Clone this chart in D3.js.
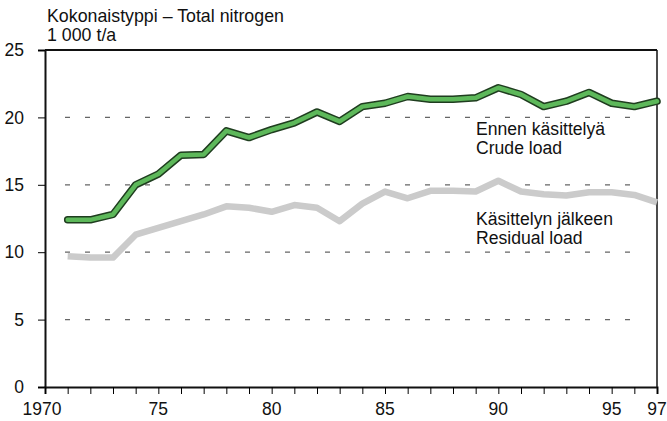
<!DOCTYPE html>
<html>
<head>
<meta charset="utf-8">
<script src="https://cdn.jsdelivr.net/npm/d3@7"></script>
<style>
  body { margin: 0; background: #fff; }
  svg { display: block; font-family: "Liberation Sans", Arial, Helvetica, sans-serif; }
</style>
</head>
<body>
<svg id="chart"></svg>
<script>
const years = d3.range(1971, 1998);
const crudeLoad = [12.4, 12.4, 12.8, 15.0, 15.8, 17.2, 17.25, 19.0, 18.5, 19.1, 19.6, 20.4, 19.7,
  20.8, 21.05, 21.55, 21.35, 21.35, 21.45, 22.2, 21.7, 20.8, 21.2, 21.85, 21.05, 20.8, 21.2];
const residualLoad = [9.7, 9.6, 9.6, 11.3, 11.8, 12.3, 12.8, 13.4, 13.3, 13.0, 13.5, 13.3, 12.3,
  13.6, 14.5, 14.0, 14.55, 14.55, 14.5, 15.3, 14.5, 14.3, 14.2, 14.45, 14.45, 14.25, 13.7];
const yTicks = [0, 5, 10, 15, 20, 25];
const gridValues = [5, 10, 15, 20];
const xLabels = [[1970, '1970'], [1975, '75'], [1980, '80'], [1985, '85'], [1990, '90'], [1995, '95'], [1997, '97']];
const titleLines = ['Kokonaistyppi – Total nitrogen', '1 000 t/a'];
const crudeLabel = ['Ennen käsittelyä', 'Crude load'];
const residualLabel = ['Käsittelyn jälkeen', 'Residual load'];

const width = 667;
const height = 421;

const svg = d3.select('#chart')
  .attr('width', width)
  .attr('height', height);

const x = d3.scaleLinear().domain([1970, 1997]).range([45, 657]);
const y = d3.scaleLinear().domain([0, 25]).range([387, 50]);

// dashed grid
svg.append('g')
  .selectAll('line')
  .data(gridValues)
  .enter().append('line')
  .attr('x1', 65)
  .attr('x2', 645)
  .attr('y1', d => y(d))
  .attr('y2', d => y(d))
  .attr('stroke', '#666')
  .attr('stroke-width', 1.2)
  .attr('stroke-dasharray', '5,15');

// frame: top and right edges
svg.append('line')
  .attr('x1', x(1970)).attr('x2', x(1997))
  .attr('y1', y(25)).attr('y2', y(25))
  .attr('stroke', '#111').attr('stroke-width', 2);
svg.append('line')
  .attr('x1', x(1997)).attr('x2', x(1997))
  .attr('y1', y(25)).attr('y2', y(0))
  .attr('stroke', '#111').attr('stroke-width', 1.5);

// y axis
const yAxis = svg.append('g')
  .attr('transform', `translate(${x(1970)},0)`)
  .call(d3.axisLeft(y).tickValues(yTicks).tickSize(7).tickPadding(14));
yAxis.select('.domain').attr('stroke', '#111').attr('stroke-width', 2);
yAxis.selectAll('text').attr('font-size', 17.5).attr('fill', '#111');

// x axis
const xAxis = svg.append('g')
  .attr('transform', `translate(0,${y(0)})`)
  .call(d3.axisBottom(x).tickValues(d3.range(1970, 1998)).tickSize(7).tickFormat(''));
xAxis.select('.domain').attr('stroke', '#111').attr('stroke-width', 2);

svg.append('g')
  .selectAll('text')
  .data(xLabels)
  .enter().append('text')
  .attr('x', d => x(d[0]) - (d[0] === 1970 ? 3 : 0))
  .attr('y', 415)
  .attr('text-anchor', 'middle')
  .attr('font-size', 17.5)
  .attr('fill', '#111')
  .text(d => d[1]);

const line = d3.line()
  .x((d, i) => x(years[i]))
  .y(d => y(d));

// residual load (grey)
svg.append('path')
  .datum(residualLoad)
  .attr('d', line)
  .attr('fill', 'none')
  .attr('stroke', '#cbcbcb')
  .attr('stroke-width', 6.5)
  .attr('stroke-linejoin', 'round');

// crude load (green with dark edge)
svg.append('path')
  .datum(crudeLoad)
  .attr('d', line)
  .attr('fill', 'none')
  .attr('stroke', '#1f3d1f')
  .attr('stroke-width', 7.5)
  .attr('stroke-linejoin', 'round')
  .attr('stroke-linecap', 'round');
svg.append('path')
  .datum(crudeLoad)
  .attr('d', line)
  .attr('fill', 'none')
  .attr('stroke', '#5db85a')
  .attr('stroke-width', 4.5)
  .attr('stroke-linejoin', 'round')
  .attr('stroke-linecap', 'round');

// title
svg.append('g')
  .selectAll('text')
  .data(titleLines)
  .enter().append('text')
  .attr('x', 47)
  .attr('y', (d, i) => 22 + i * 19)
  .attr('font-size', 17.8)
  .attr('fill', '#111')
  .text(d => d);

// series labels
function labelBlock(lines, top) {
  svg.append('g')
    .selectAll('text')
    .data(lines)
    .enter().append('text')
    .attr('x', 476)
    .attr('y', (d, i) => top + i * 19)
    .attr('font-size', 17.6)
    .attr('fill', '#111')
    .text(d => d);
}
labelBlock(crudeLabel, 135);
labelBlock(residualLabel, 225);
</script>
</body>
</html>
